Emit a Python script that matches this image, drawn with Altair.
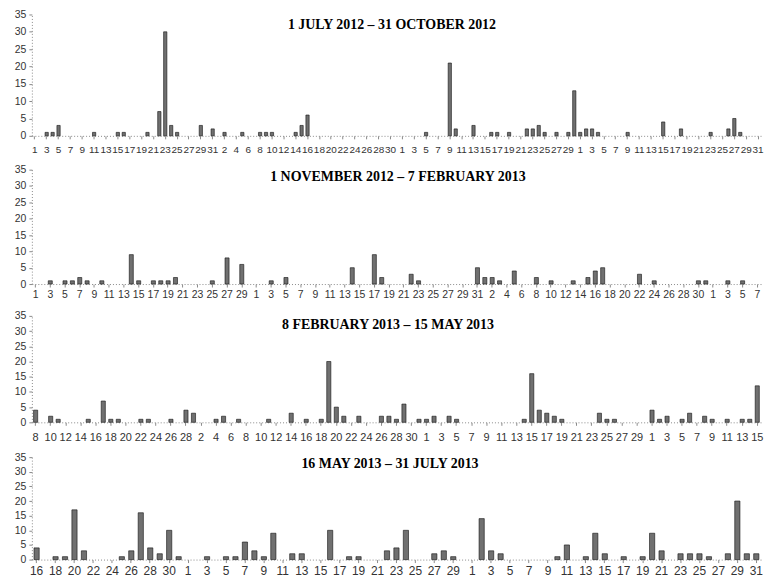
import altair as alt
import pandas as pd

# ---- daily counts (one list per month) ----
JUL_2012 = [0, 0, 1, 1, 3, 0, 0, 0, 0, 0, 1, 0, 0, 0, 1, 1, 0, 0, 0, 1,
            0, 7, 30, 3, 1, 0, 0, 0, 3, 0, 2]
AUG_2012 = [0, 1, 0, 0, 1, 0, 0, 1, 1, 1, 0, 0, 0, 1, 3, 6, 0, 0, 0, 0,
            0, 0, 0, 0, 0, 0, 0, 0, 0, 0, 0]
SEP_2012 = [0, 0, 0, 0, 1, 0, 0, 0, 21, 2, 0, 0, 3, 0, 0, 1, 1, 0, 1, 0,
            0, 2, 2, 3, 1, 0, 1, 0, 1, 13]
OCT_2012 = [1, 2, 2, 1, 0, 0, 0, 0, 1, 0, 0, 0, 0, 0, 4, 0, 0, 2, 0, 0,
            0, 0, 1, 0, 0, 2, 5, 1, 0, 0, 0]

NOV_2012 = [0, 0, 1, 0, 1, 1, 2, 1, 0, 1, 0, 0, 0, 9, 1, 0, 1, 1, 1, 2,
            0, 0, 0, 0, 1, 0, 8, 0, 6, 0]
DEC_2012 = [0, 0, 1, 0, 2, 0, 0, 0, 0, 0, 0, 0, 0, 5, 0, 0, 9, 2, 0, 0,
            0, 3, 1, 0, 0, 0, 0, 0, 0, 0, 5]
JAN_2013 = [2, 2, 1, 0, 4, 0, 0, 2, 0, 1, 0, 0, 1, 0, 2, 4, 5, 0, 0, 0,
            0, 3, 0, 1, 0, 0, 0, 0, 0, 1, 1]
FEB_2013_A = [0, 0, 1, 0, 1, 0, 0]                      # 1-7 Feb

FEB_2013_B = [4, 0, 2, 1, 0, 0, 0, 1, 0, 7, 1, 1, 0, 0, 1, 1, 0, 0, 1, 0,
              4]                                        # 8-28 Feb
MAR_2013 = [3, 0, 0, 1, 2, 0, 1, 0, 0, 0, 1, 0, 0, 3, 0, 1, 0, 1, 20, 5,
            2, 0, 2, 0, 0, 2, 2, 1, 6, 0, 1]
APR_2013 = [1, 2, 0, 2, 1, 0, 0, 0, 0, 0, 0, 0, 0, 1, 16, 4, 3, 2, 1, 0,
            0, 0, 0, 3, 1, 1, 0, 0, 0, 0]
MAY_2013_A = [4, 1, 2, 0, 1, 3, 0, 2, 1, 0, 1, 0, 1, 1, 12]   # 1-15 May

MAY_2013_B = [4, 0, 1, 1, 17, 3, 0, 0, 0, 1, 3, 16, 4, 2, 10, 1]  # 16-31 May
JUN_2013 = [0, 0, 1, 0, 1, 1, 6, 3, 1, 9, 0, 2, 2, 0, 0, 10, 0, 1, 1, 0,
            0, 3, 4, 10, 0, 0, 2, 3, 1, 0]
JUL_2013 = [0, 14, 3, 2, 0, 0, 0, 0, 0, 1, 5, 0, 1, 9, 2, 0, 1, 0, 1, 9,
            3, 0, 2, 2, 2, 1, 0, 2, 20, 2, 2]

TITLES = [
    "1 JULY 2012 \u2013  31 OCTOBER 2012",
    "1 NOVEMBER 2012 \u2013  7 FEBRUARY 2013",
    "8 FEBRUARY 2013 \u2013 15 MAY 2013",
    "16 MAY 2013 \u2013 31 JULY 2013",
]
STARTS = ["2012-07-01", "2012-11-01", "2013-02-08", "2013-05-16"]
MONTHS = [
    [JUL_2012, AUG_2012, SEP_2012, OCT_2012],
    [NOV_2012, DEC_2012, JAN_2013, FEB_2013_A],
    [FEB_2013_B, MAR_2013, APR_2013, MAY_2013_A],
    [MAY_2013_B, JUN_2013, JUL_2013],
]
Y_TICKS = [0, 5, 10, 15, 20, 25, 30, 35]

# layout per panel: plot height, x-label padding, x-label font size, title place
PLOT_W = 733
HEIGHTS = [122, 115, 107, 103]
LAB_PAD = [6, 3, 6, 3]
LAB_SIZE = [10, 10.5, 11, 12]
TITLE_X = [362, 368, 358, 360]
TITLE_Y = [11, 7, 9, 7]

AXIS_GREY = "#8a8a8a"
LABEL_COL = "#333333"


def panel(k):
    counts = [v for m in MONTHS[k] for v in m]
    dates = pd.date_range(STARTS[k], periods=len(counts), freq="D").strftime("%Y-%m-%d").tolist()
    df = pd.DataFrame({"date": dates, "count": counts})

    bars = (
        alt.Chart(df)
        .transform_filter("datum.count > 0")
        .mark_bar(fill="#707070", stroke="#111111", strokeWidth=0.6)
        .encode(
            x=alt.X(
                "date:O",
                scale=alt.Scale(domain=dates, paddingInner=0.45, paddingOuter=0.225),
                axis=alt.Axis(
                    values=dates[::2],
                    labelExpr="toNumber(substring(datum.value, 8, 10))",
                    labelAngle=0, labelOverlap=False, labelBound=False, labelFlush=False,
                    labelFontSize=LAB_SIZE[k], labelPadding=LAB_PAD[k],
                    labelFont="Liberation Sans", labelColor=LABEL_COL,
                    tickSize=3, tickColor=AXIS_GREY, domainColor=AXIS_GREY,
                    domainDash=[1, 2], title=None,
                ),
            ),
            y=alt.Y(
                "count:Q",
                scale=alt.Scale(domain=[0, 35], nice=False),
                axis=alt.Axis(
                    values=Y_TICKS, title=None, grid=False,
                    labelFontSize=10.5, labelFont="Liberation Sans", labelColor=LABEL_COL,
                    labelPadding=3, tickSize=3, tickColor=AXIS_GREY,
                    domainColor=AXIS_GREY, domainDash=[1, 2],
                ),
            ),
        )
    )

    heading = (
        alt.Chart(pd.DataFrame({"title": [TITLES[k]]}))
        .mark_text(font="Liberation Serif", fontSize=14, fontWeight="bold",
                   color="#000000", align="center", baseline="middle")
        .encode(text="title:N", x=alt.value(TITLE_X[k]), y=alt.value(TITLE_Y[k]))
    )

    return alt.layer(bars, heading).properties(width=PLOT_W, height=HEIGHTS[k])


chart = (
    alt.vconcat(*[panel(k) for k in range(4)], spacing=10)
    .properties(padding={"left": 6, "top": 0, "right": 0, "bottom": 0})
    .configure_view(stroke=None)
)

chart.save("out.html", embed_options={"renderer": "svg", "actions": False})
